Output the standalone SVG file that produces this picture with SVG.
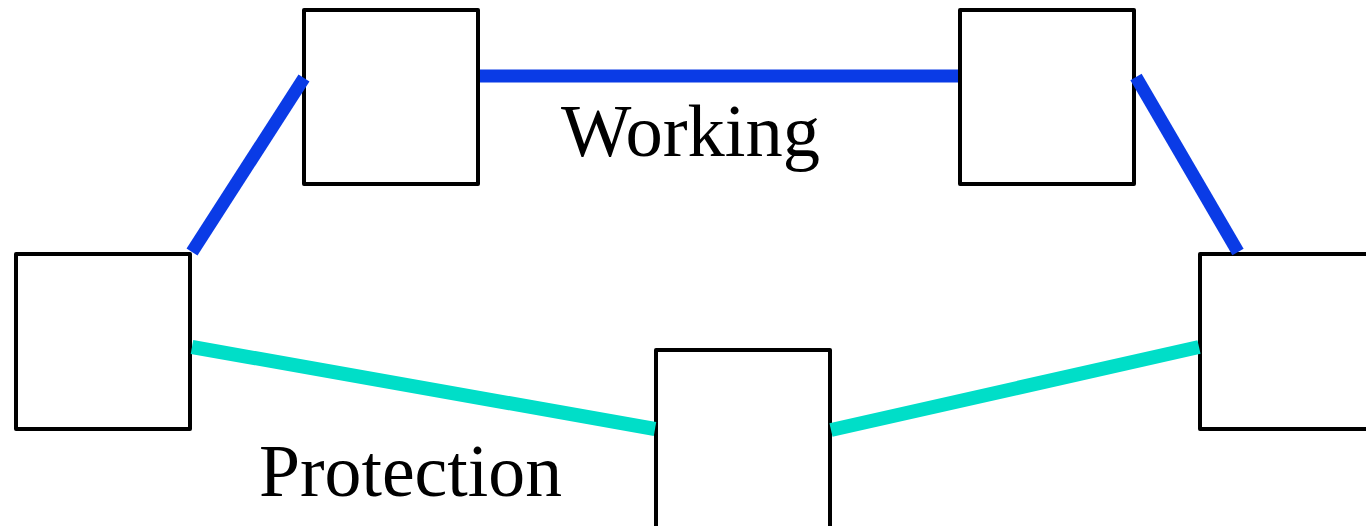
<svg xmlns="http://www.w3.org/2000/svg" width="1366" height="526" viewBox="0 0 1366 526">
<style>
.box{fill:#fff;stroke:#000;stroke-width:4;stroke-linejoin:round}
.work{stroke:#0A3BE6;stroke-width:13;fill:none}
.prot{stroke:#00DEC8;stroke-width:14;fill:none}
.lbl{font-family:"Liberation Serif","Times New Roman",serif;font-size:73px;fill:#000}
</style>
<rect width="1366" height="526" fill="#fff"/>
<g id="nodeA"><rect class="box" x="16" y="254" width="174" height="175"/></g>
<g id="nodeB"><rect class="box" x="304" y="10" width="174" height="174"/></g>
<g id="nodeC"><rect class="box" x="960" y="10" width="174" height="174"/></g>
<g id="nodeD"><rect class="box" x="1200" y="254" width="176" height="175"/></g>
<g id="nodeE"><rect class="box" x="656" y="350" width="174" height="180"/></g>
<g id="connectors">
<line class="work" x1="192" y1="252" x2="304" y2="78"/>
<line class="work" x1="480" y1="76" x2="958" y2="76"/>
<line class="work" x1="1136" y1="77" x2="1238" y2="252"/>
<line class="prot" x1="192" y1="347" x2="655" y2="429"/>
<line class="prot" x1="831" y1="430" x2="1199" y2="347"/>
</g>
<text class="lbl" x="561" y="156" textLength="259" lengthAdjust="spacingAndGlyphs">Working</text>
<text class="lbl" x="259" y="496" textLength="303" lengthAdjust="spacingAndGlyphs">Protection</text>
</svg>
